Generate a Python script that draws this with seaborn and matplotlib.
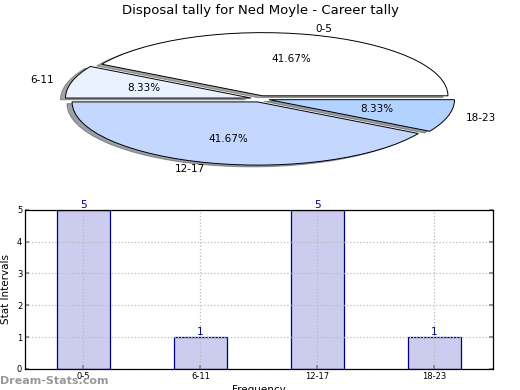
import matplotlib
matplotlib.use("Agg")
import matplotlib.pyplot as plt
import seaborn as sns
import pandas as pd

# Données
intervals = ["0-5", "6-11", "12-17", "18-23"]
counts = [5, 1, 5, 1]
pie_colors = ["#ffffff", "#ebf2ff", "#c4d8ff", "#b2d3ff"]

sns.set_theme(style="white")
plt.rcParams['font.family'] = ['DejaVu Sans']
plt.rcParams['text.color'] = 'black'
plt.rcParams['axes.labelcolor'] = 'black'
plt.rcParams['xtick.color'] = 'black'
plt.rcParams['ytick.color'] = 'black'

fig = plt.figure(figsize=(5.2, 3.9), dpi=100)

# Camembert (aplati)
ax_pie = fig.add_axes([0.054, 0.544, 0.892, 0.405])
wedges, texts, autotexts = ax_pie.pie(
    counts, labels=intervals, colors=pie_colors, autopct="%.2f%%",
    startangle=0, explode=[0.05] * 4, shadow=True,
    wedgeprops={"edgecolor": "black", "linewidth": 0.7},
    textprops={"fontsize": 7.5, "color": "black"})
ax_pie.set_aspect("auto")
ax_pie.set_title("Disposal tally for Ned Moyle - Career tally", fontsize=9.5, pad=4)

# Histogramme
df = pd.DataFrame({"interval": intervals, "count": counts})
ax = fig.add_axes([0.048, 0.054, 0.9, 0.408])
sns.barplot(data=df, x="interval", y="count", color="#ccccee", saturation=1,
            edgecolor="navy", linewidth=0.9, width=0.45, ax=ax)
for i, v in enumerate(counts):
    ax.text(i, v, str(v), ha="center", va="bottom", color="navy", fontsize=7.5)
ax.set_xlim(-0.5, 3.5)
ax.set_ylim(0, 5)
ax.set_axisbelow(False)
ax.grid(True, linestyle=":", color="#bbbbbb", linewidth=0.9, zorder=2)
for s in ax.spines.values():
    s.set_color("black")
    s.set_linewidth(0.9)
    s.set_zorder(3)
ax.tick_params(axis="both", direction="in", length=3, color="#888888", labelsize=6,
               right=True, top=False, left=True, bottom=True, pad=2)
ax.set_ylabel("Stat Intervals", fontsize=7.5, labelpad=4)
ax.set_xlabel("Frequency", fontsize=7.5, labelpad=3)

fig.text(0.0, 0.01, "Dream-Stats.com", fontsize=8, color="#999999", fontweight="bold",
         ha="left", va="bottom")

fig.savefig("out.png", dpi=100)
